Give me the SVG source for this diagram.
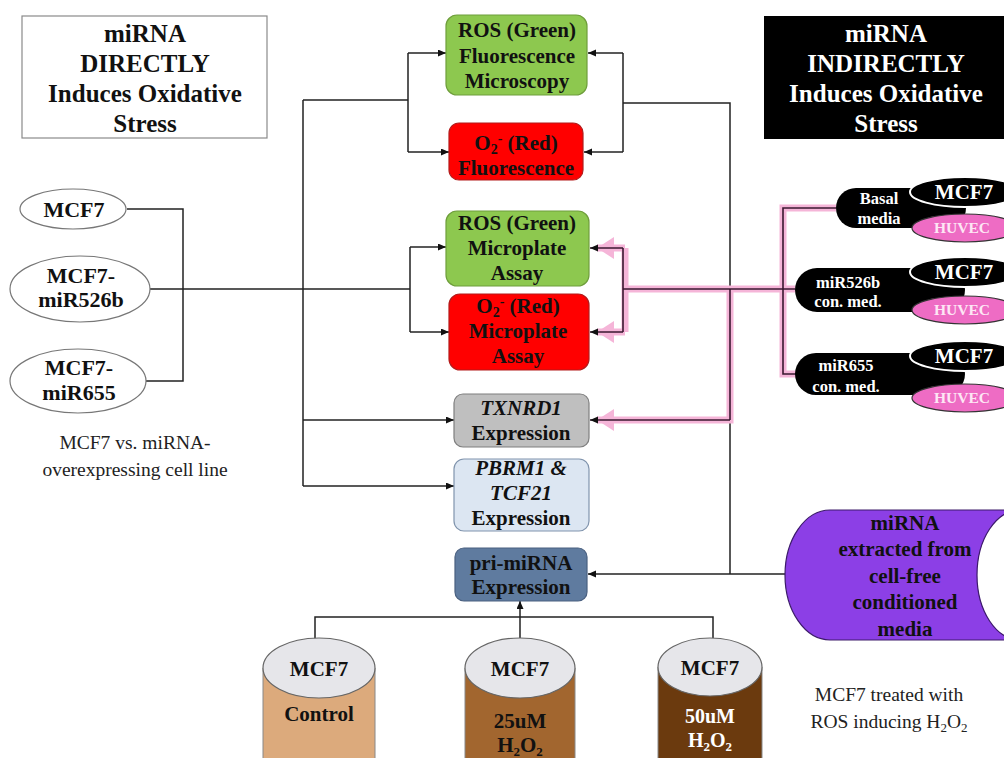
<svg xmlns="http://www.w3.org/2000/svg" width="1004" height="758" viewBox="0 0 1004 758">
<defs>
<style>
text{font-family:"Liberation Serif","Times New Roman",serif;font-weight:bold;text-anchor:middle;}
.t20{font-size:21px;fill:#111;}
.t22{font-size:25px;}
.el{font-size:22px;fill:#111;}
.w{fill:#fff;}
.reg{font-weight:normal;font-size:19.5px;fill:#222;}
.it{font-style:italic;}
.box{stroke-width:1.2;}
.ln{fill:none;stroke:#222;stroke-width:1.5;}
.pk{fill:none;stroke:#f5b5d8;stroke-width:7;}
.pkd{fill:none;stroke:#3a1830;stroke-width:1.6;}
</style>
<marker id="ah" markerUnits="userSpaceOnUse" markerWidth="9" markerHeight="8" refX="8" refY="3.5" orient="auto"><path d="M0,0 L8,3.5 L0,7 z" fill="#111"/></marker>
<marker id="pah" markerUnits="userSpaceOnUse" markerWidth="18" markerHeight="24" refX="17" refY="11" orient="auto"><path d="M0,0 L17,11 L0,22 z" fill="#f5b5d8"/></marker>
</defs>
<rect width="1004" height="758" fill="#fff"/>

<g id="connectors">
<path class="ln" d="M127,209 H183 V381 H146"/>
<path class="ln" d="M150,289 H410 M410,247 V332"/>
<path class="ln" d="M410,247 H446" marker-end="url(#ah)"/>
<path class="ln" d="M410,332 H449" marker-end="url(#ah)"/>
<path class="ln" d="M303,100 V486 M303,100 H408 M408,53 V152"/>
<path class="ln" d="M408,53 H446" marker-end="url(#ah)"/>
<path class="ln" d="M408,152 H449" marker-end="url(#ah)"/>
<path class="ln" d="M303,420 H454" marker-end="url(#ah)"/>
<path class="ln" d="M303,486 H454" marker-end="url(#ah)"/>
<path class="ln" d="M730,574 V103 H623 M623,53 V152"/>
<path class="ln" d="M623,53 H588" marker-end="url(#ah)"/>
<path class="ln" d="M623,152 H584" marker-end="url(#ah)"/>
<path class="ln" d="M785,574 H588" marker-end="url(#ah)"/>
<path class="ln" d="M315,640 V617 H713 V638"/>
<path class="ln" d="M520,638 V601" marker-end="url(#ah)"/>
<path class="pk" d="M836,208 H783 V374 H796 M795,289 H625 M625,248 V332"/>
<path class="pk" d="M625,248 H597" marker-end="url(#pah)"/>
<path class="pk" d="M625,332 H597" marker-end="url(#pah)"/>
<path class="pk" d="M730,289 V420 H597" marker-end="url(#pah)"/>
<path class="pkd" d="M836,208 H783 V374 H796 M795,289 H623 M623,248 V332 M730,289 V420"/>
<path class="pkd" d="M623,248 H590" marker-end="url(#ah)"/>
<path class="pkd" d="M623,332 H590" marker-end="url(#ah)"/>
<path class="pkd" d="M730,420 H590" marker-end="url(#ah)"/>
</g>

<g id="title-direct">
<rect x="22" y="16" width="245" height="122" fill="#fff" stroke="#8a8a8a" stroke-width="1.2"/>
<text class="t22" x="145" y="42" fill="#111">miRNA</text>
<text class="t22" x="145" y="72" fill="#111">DIRECTLY</text>
<text class="t22" x="145" y="102" fill="#111">Induces Oxidative</text>
<text class="t22" x="145" y="132" fill="#111">Stress</text>
</g>
<g id="title-indirect">
<rect x="764" y="16" width="245" height="123" fill="#000"/>
<text class="t22 w" x="886" y="42">miRNA</text>
<text class="t22 w" x="886" y="72">INDIRECTLY</text>
<text class="t22 w" x="886" y="102">Induces Oxidative</text>
<text class="t22 w" x="886" y="132">Stress</text>
</g>

<g id="ros-fluor">
<rect class="box" x="446" y="15" width="141" height="80" rx="11" fill="#8dc84f" stroke="#6f9e3c"/>
<text class="t20" x="517" y="37">ROS (Green)</text>
<text class="t20" x="517" y="63">Fluorescence</text>
<text class="t20" x="517" y="88">Microscopy</text>
</g>
<g id="o2-fluor">
<rect class="box" x="449" y="123" width="134" height="57" rx="10" fill="#ff0000" stroke="#b31b1b"/>
<text class="t20" x="516" y="150">O<tspan font-size="14" dy="4">2</tspan><tspan font-size="14" dy="-11">-</tspan><tspan dy="7"> (Red)</tspan></text>
<text class="t20" x="516" y="175">Fluorescence</text>
</g>
<g id="ros-micro">
<rect class="box" x="446" y="211" width="143" height="75" rx="11" fill="#8dc84f" stroke="#6f9e3c"/>
<text class="t20" x="517" y="230">ROS (Green)</text>
<text class="t20" x="517" y="255">Microplate</text>
<text class="t20" x="517" y="280">Assay</text>
</g>
<g id="o2-micro">
<rect class="box" x="449" y="294" width="140" height="76" rx="11" fill="#ff0000" stroke="#b31b1b"/>
<text class="t20" x="518" y="313">O<tspan font-size="14" dy="4">2</tspan><tspan font-size="14" dy="-11">-</tspan><tspan dy="7"> (Red)</tspan></text>
<text class="t20" x="518" y="338">Microplate</text>
<text class="t20" x="518" y="363">Assay</text>
</g>
<g id="txnrd1">
<rect class="box" x="454" y="394" width="135" height="53" rx="9" fill="#bfbfbf" stroke="#7f7f7f"/>
<text class="t20 it" x="521" y="415">TXNRD1</text>
<text class="t20" x="521" y="440">Expression</text>
</g>
<g id="pbrm1">
<rect class="box" x="454" y="459" width="135" height="72" rx="10" fill="#dce6f2" stroke="#8094ad"/>
<text class="t20 it" x="521" y="475">PBRM1 &amp;</text>
<text class="t20 it" x="521" y="500">TCF21</text>
<text class="t20" x="521" y="525">Expression</text>
</g>
<g id="pri-mirna">
<rect class="box" x="455" y="548" width="132" height="53" rx="9" fill="#5f7b9f" stroke="#4a6080"/>
<text class="t20" x="521" y="570" fill="#edf1f7">pri-miRNA</text>
<text class="t20" x="521" y="594" fill="#edf1f7">Expression</text>
</g>

<g id="mcf7-left">
<ellipse cx="73" cy="209" rx="53" ry="20" fill="#fff" stroke="#777" stroke-width="1.2"/>
<text class="el" x="74" y="217">MCF7</text>
</g>
<g id="mcf7-mir526b">
<ellipse cx="80" cy="289" rx="70" ry="33" fill="#fff" stroke="#777" stroke-width="1.2"/>
<text class="el" x="81" y="283">MCF7-</text>
<text class="el" x="81" y="307">miR526b</text>
</g>
<g id="mcf7-mir655">
<ellipse cx="78" cy="381" rx="68" ry="32" fill="#fff" stroke="#777" stroke-width="1.2"/>
<text class="el" x="79" y="375">MCF7-</text>
<text class="el" x="79" y="400">miR655</text>
</g>
<g id="left-caption">
<text class="reg" x="135" y="449">MCF7 vs. miRNA-</text>
<text class="reg" x="135" y="476">overexpressing cell line</text>
</g>

<g id="basal">
<rect x="836" y="188" width="130" height="40" rx="20" fill="#000"/>
<ellipse cx="965" cy="192" rx="55" ry="15" fill="#000" stroke="#fff" stroke-width="2"/>
<ellipse cx="965" cy="228" rx="53" ry="14" fill="#ee6cc4" stroke="#333" stroke-width="1.2"/>
<text class="w" x="879" y="204" font-size="16.5">Basal</text>
<text class="w" x="879" y="224" font-size="16.5">media</text>
<text class="w" x="964" y="199" font-size="21">MCF7</text>
<text x="962" y="233" font-size="15.5" fill="#fde6f4">HUVEC</text>
</g>
<g id="mir526b-cm">
<rect x="795" y="268" width="170" height="44" rx="22" fill="#000"/>
<ellipse cx="965" cy="272" rx="55" ry="15" fill="#000" stroke="#fff" stroke-width="2"/>
<ellipse cx="965" cy="310" rx="53" ry="14" fill="#ee6cc4" stroke="#333" stroke-width="1.2"/>
<text class="w" x="848" y="288" font-size="16.5">miR526b</text>
<text class="w" x="848" y="307" font-size="16.5">con. med.</text>
<text class="w" x="964" y="279" font-size="21">MCF7</text>
<text x="962" y="315" font-size="15.5" fill="#fde6f4">HUVEC</text>
</g>
<g id="mir655-cm">
<rect x="795" y="353" width="170" height="42" rx="21" fill="#000"/>
<ellipse cx="965" cy="356" rx="55" ry="15" fill="#000" stroke="#fff" stroke-width="2"/>
<ellipse cx="965" cy="398" rx="53" ry="14" fill="#ee6cc4" stroke="#333" stroke-width="1.2"/>
<text class="w" x="846" y="371" font-size="16.5">miR655</text>
<text class="w" x="846" y="392" font-size="16.5">con. med.</text>
<text class="w" x="964" y="363" font-size="21">MCF7</text>
<text x="962" y="403" font-size="15.5" fill="#fde6f4">HUVEC</text>
</g>

<g id="mirna-extracted">
<path d="M1020,510 H830 A45,65 0 0 0 830,640 H1020 Z" fill="#8c3fe6" stroke="#3c1a6a" stroke-width="1.2"/>
<ellipse cx="1020" cy="575" rx="43" ry="65" fill="#fff" stroke="#3c1a6a" stroke-width="1.2"/>
<text class="t20" x="905" y="530" fill="#f3e8ff">miRNA</text>
<text class="t20" x="905" y="556" fill="#f3e8ff">extracted from</text>
<text class="t20" x="905" y="583" fill="#f3e8ff">cell-free</text>
<text class="t20" x="905" y="609" fill="#f3e8ff">conditioned</text>
<text class="t20" x="905" y="636" fill="#f3e8ff">media</text>
</g>

<g id="mcf7-control">
<path d="M263,668 V760 H375 V668" fill="#dcaa7c" stroke="#888" stroke-width="1"/>
<ellipse cx="319" cy="668" rx="56" ry="30" fill="#e6e6ea" stroke="#666" stroke-width="1.2"/>
<text class="t20" x="319" y="676" font-size="20">MCF7</text>
<text class="t20" x="319" y="721" font-size="20">Control</text>
</g>
<g id="mcf7-25">
<path d="M465,668 V760 H575 V668" fill="#a2662f" stroke="#888" stroke-width="1"/>
<ellipse cx="520" cy="668" rx="55" ry="30" fill="#e6e6ea" stroke="#666" stroke-width="1.2"/>
<text class="t20" x="520" y="676" font-size="20">MCF7</text>
<text class="t20" x="520" y="728" font-size="20">25uM</text>
<text class="t20" x="520" y="752" font-size="20">H<tspan font-size="13" dy="4">2</tspan><tspan dy="-4">O</tspan><tspan font-size="13" dy="4">2</tspan></text>
</g>
<g id="mcf7-50">
<path d="M658,667 V760 H762 V667" fill="#6b3a0e" stroke="#888" stroke-width="1"/>
<ellipse cx="710" cy="667" rx="52" ry="29" fill="#e6e6ea" stroke="#666" stroke-width="1.2"/>
<text class="t20" x="710" y="675" font-size="20">MCF7</text>
<text x="710" y="723" font-size="20" fill="#fff">50uM</text>
<text x="710" y="747" font-size="20" fill="#fff">H<tspan font-size="13" dy="4">2</tspan><tspan dy="-4">O</tspan><tspan font-size="13" dy="4">2</tspan></text>
</g>
<g id="bottom-caption">
<text class="reg" x="889" y="701" font-size="20">MCF7 treated with</text>
<text class="reg" x="889" y="728" font-size="20">ROS inducing H<tspan font-size="13" dy="4">2</tspan><tspan dy="-4">O</tspan><tspan font-size="13" dy="4">2</tspan></text>
</g>
</svg>
